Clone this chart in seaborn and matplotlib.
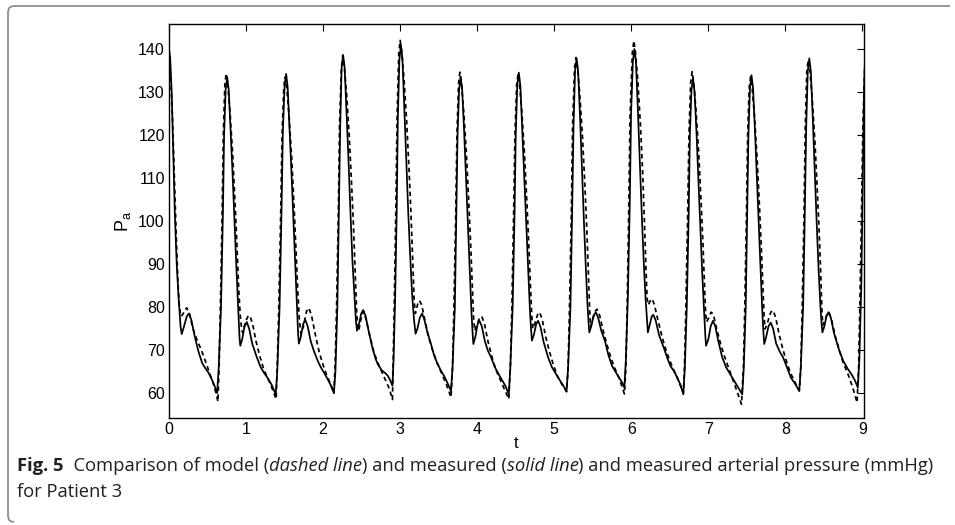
import matplotlib
matplotlib.use("Agg")
import matplotlib.pyplot as plt
import seaborn as sns
import pandas as pd
from matplotlib.lines import Line2D

# ---------------- data ----------------
# measured arterial pressure (solid line)
measured_t = [
    0.000, 0.015, 0.035, 0.055, 0.075, 0.100, 0.125, 0.150, 0.165, 0.195, 0.230, 0.260, 0.290, 0.330, 0.380, 0.430, 0.470, 0.510, 0.555, 0.595, 0.625,
    0.645, 0.675, 0.700, 0.715, 0.735, 0.755, 0.775, 0.800, 0.825, 0.850, 0.875, 0.900, 0.915, 0.925, 0.950, 0.980, 1.010, 1.040, 1.080, 1.140, 1.190, 1.230, 1.280, 1.330, 1.385,
    1.405, 1.435, 1.460, 1.478, 1.500, 1.520, 1.540, 1.565, 1.590, 1.615, 1.640, 1.665, 1.675, 1.685, 1.710, 1.740, 1.770, 1.800, 1.840, 1.880, 1.930, 1.970, 2.020, 2.060, 2.100, 2.140,
    2.160, 2.185, 2.205, 2.222, 2.240, 2.260, 2.280, 2.305, 2.330, 2.355, 2.380, 2.405, 2.425, 2.440, 2.465, 2.495, 2.520, 2.550, 2.590, 2.640, 2.680, 2.710, 2.760, 2.810, 2.840, 2.870, 2.900,
    2.915, 2.935, 2.955, 2.970, 2.990, 3.010, 3.030, 3.055, 3.080, 3.105, 3.130, 3.155, 3.180, 3.200, 3.225, 3.255, 3.285, 3.315, 3.355, 3.400, 3.440, 3.480, 3.530, 3.570, 3.610, 3.660,
    3.680, 3.710, 3.730, 3.745, 3.765, 3.785, 3.805, 3.830, 3.855, 3.880, 3.905, 3.925, 3.940, 3.950, 3.975, 4.005, 4.030, 4.060, 4.100, 4.140, 4.180, 4.230, 4.290, 4.330, 4.370, 4.410,
    4.430, 4.460, 4.485, 4.500, 4.520, 4.540, 4.560, 4.585, 4.610, 4.635, 4.660, 4.685, 4.700, 4.710, 4.735, 4.765, 4.790, 4.820, 4.860, 4.920, 4.970, 5.010, 5.050, 5.100, 5.160,
    5.180, 5.210, 5.232, 5.250, 5.270, 5.290, 5.310, 5.335, 5.360, 5.385, 5.410, 5.430, 5.445, 5.455, 5.480, 5.510, 5.540, 5.570, 5.610, 5.660, 5.700, 5.750, 5.800, 5.840, 5.880, 5.910,
    5.930, 5.955, 5.980, 5.997, 6.020, 6.040, 6.060, 6.085, 6.110, 6.135, 6.160, 6.185, 6.205, 6.215, 6.240, 6.265, 6.285, 6.315, 6.360, 6.420, 6.470, 6.510, 6.550, 6.600, 6.640, 6.675,
    6.695, 6.720, 6.745, 6.760, 6.780, 6.800, 6.820, 6.845, 6.870, 6.895, 6.920, 6.945, 6.960, 6.970, 7.000, 7.030, 7.060, 7.090, 7.130, 7.180, 7.230, 7.270, 7.310, 7.370, 7.440,
    7.460, 7.485, 7.505, 7.520, 7.540, 7.560, 7.580, 7.605, 7.630, 7.655, 7.680, 7.700, 7.715, 7.725, 7.750, 7.780, 7.810, 7.840, 7.880, 7.930, 7.970, 8.020, 8.070, 8.120, 8.180,
    8.200, 8.230, 8.252, 8.270, 8.290, 8.310, 8.330, 8.355, 8.380, 8.405, 8.430, 8.455, 8.470, 8.480, 8.505, 8.535, 8.560, 8.590, 8.630, 8.700, 8.750, 8.810, 8.860, 8.900, 8.940,
    8.960, 8.985, 9.005, 9.020, 9.035,
]
measured_p = [
    140.0, 138.0, 130.0, 116.0, 102.0, 90.0, 82.0, 75.5, 73.7, 75.5, 77.8, 78.5, 77.0, 73.5, 69.8, 67.0, 65.8, 64.8, 63.2, 61.5, 60.0,
    66.0, 80.0, 102.0, 120.0, 130.5, 133.5, 130.5, 121.0, 111.0, 100.0, 89.0, 79.0, 73.0, 71.0, 72.5, 75.5, 76.5, 75.0, 71.5, 68.3, 66.0, 64.8, 63.5, 62.0, 59.7,
    65.0, 80.0, 102.0, 121.0, 131.2, 134.2, 131.2, 121.0, 111.0, 100.0, 89.0, 78.5, 74.0, 71.5, 73.0, 76.0, 77.0, 75.5, 72.0, 69.8, 67.5, 66.0, 64.5, 63.2, 61.8, 60.0,
    65.0, 80.0, 102.0, 122.0, 135.5, 138.6, 135.5, 125.0, 114.0, 102.0, 91.0, 83.0, 77.0, 74.5, 76.0, 78.5, 79.3, 78.0, 74.5, 70.5, 68.0, 66.7, 65.3, 64.6, 64.0, 63.0, 61.7,
    68.0, 82.0, 102.0, 124.0, 137.5, 140.9, 137.5, 126.0, 114.0, 102.0, 92.0, 83.0, 77.0, 73.8, 75.0, 77.5, 78.5, 77.0, 74.0, 71.4, 68.8, 67.0, 65.2, 64.0, 62.5, 60.5,
    66.0, 80.0, 102.0, 120.0, 130.5, 133.5, 130.5, 121.0, 110.0, 99.0, 88.0, 79.0, 74.0, 71.4, 73.0, 76.0, 76.8, 75.5, 72.0, 69.8, 68.3, 66.0, 64.0, 62.8, 61.5, 59.7,
    66.0, 80.0, 102.0, 120.0, 131.5, 134.5, 131.5, 121.0, 111.0, 100.0, 89.0, 79.0, 74.5, 72.2, 73.5, 76.0, 76.8, 75.5, 72.0, 68.3, 66.0, 64.8, 63.6, 62.2, 60.5,
    66.0, 80.0, 102.0, 122.0, 134.8, 137.8, 134.8, 124.0, 112.0, 100.0, 89.0, 81.0, 76.5, 74.1, 75.5, 78.0, 78.8, 77.5, 74.5, 72.0, 69.0, 66.3, 64.8, 63.6, 62.5, 61.3,
    68.0, 82.0, 104.0, 125.0, 137.0, 140.0, 137.0, 126.0, 114.0, 102.0, 91.0, 82.0, 76.5, 74.1, 76.0, 77.8, 78.2, 77.0, 73.5, 70.6, 68.0, 66.2, 65.2, 63.5, 61.8, 59.7,
    66.0, 80.0, 102.0, 120.0, 130.2, 133.2, 130.2, 121.0, 110.0, 99.0, 88.0, 79.0, 73.5, 71.0, 72.5, 75.5, 76.8, 75.5, 72.0, 68.3, 66.0, 64.8, 63.6, 61.8, 59.7,
    66.0, 80.0, 102.0, 120.0, 130.9, 133.9, 130.9, 121.0, 110.0, 99.0, 88.0, 79.0, 74.0, 71.4, 73.0, 75.5, 76.4, 75.0, 71.5, 69.5, 68.3, 66.0, 63.6, 62.3, 60.5,
    66.0, 80.0, 102.0, 122.0, 134.8, 137.8, 134.8, 124.0, 112.0, 100.0, 89.0, 80.0, 76.0, 74.1, 75.5, 78.0, 78.8, 77.5, 74.0, 69.8, 67.5, 65.6, 64.3, 63.0, 61.3,
    68.0, 85.0, 110.0, 130.0, 139.0,
]

# model arterial pressure (dashed line)
model_t = [
    0.000, 0.020, 0.045, 0.070, 0.095, 0.115, 0.135, 0.155, 0.180, 0.205, 0.230, 0.265, 0.310, 0.360, 0.420, 0.470, 0.520, 0.570, 0.610, 0.635,
    0.650, 0.667, 0.690, 0.705, 0.725, 0.742, 0.762, 0.792, 0.827, 0.857, 0.882, 0.905, 0.925, 0.945, 0.958, 0.990, 1.025, 1.050, 1.085, 1.130, 1.180, 1.230, 1.280, 1.330, 1.390,
    1.405, 1.425, 1.450, 1.467, 1.490, 1.508, 1.528, 1.558, 1.593, 1.623, 1.648, 1.672, 1.692, 1.712, 1.745, 1.785, 1.815, 1.850, 1.900, 1.950, 2.000, 2.050, 2.100, 2.140,
    2.155, 2.175, 2.198, 2.213, 2.237, 2.255, 2.275, 2.305, 2.340, 2.370, 2.395, 2.418, 2.435, 2.450, 2.462, 2.495, 2.525, 2.560, 2.610, 2.660, 2.710, 2.760, 2.810, 2.860, 2.900,
    2.908, 2.925, 2.945, 2.960, 2.982, 3.000, 3.020, 3.050, 3.085, 3.115, 3.140, 3.165, 3.182, 3.197, 3.225, 3.250, 3.280, 3.320, 3.370, 3.420, 3.480, 3.540, 3.600, 3.660,
    3.680, 3.698, 3.722, 3.737, 3.758, 3.775, 3.795, 3.825, 3.860, 3.890, 3.915, 3.938, 3.953, 3.967, 4.000, 4.030, 4.060, 4.095, 4.140, 4.190, 4.240, 4.290, 4.350, 4.410,
    4.430, 4.450, 4.473, 4.490, 4.512, 4.530, 4.550, 4.580, 4.615, 4.645, 4.670, 4.693, 4.708, 4.722, 4.755, 4.785, 4.810, 4.845, 4.890, 4.940, 4.990, 5.040, 5.100, 5.160,
    5.180, 5.198, 5.222, 5.238, 5.263, 5.283, 5.303, 5.333, 5.368, 5.398, 5.423, 5.445, 5.460, 5.472, 5.505, 5.530, 5.555, 5.590, 5.635, 5.680, 5.730, 5.780, 5.830, 5.880, 5.910,
    5.930, 5.948, 5.968, 5.983, 6.013, 6.033, 6.053, 6.083, 6.118, 6.148, 6.170, 6.190, 6.205, 6.222, 6.245, 6.270, 6.300, 6.345, 6.400, 6.450, 6.500, 6.560, 6.620, 6.675,
    6.690, 6.708, 6.732, 6.748, 6.770, 6.790, 6.810, 6.840, 6.875, 6.905, 6.930, 6.950, 6.965, 6.977, 7.005, 7.035, 7.065, 7.100, 7.150, 7.200, 7.250, 7.300, 7.360, 7.430,
    7.455, 7.473, 7.495, 7.510, 7.530, 7.548, 7.568, 7.598, 7.633, 7.663, 7.688, 7.710, 7.724, 7.737, 7.770, 7.810, 7.840, 7.875, 7.920, 7.970, 8.020, 8.070, 8.125, 8.180,
    8.200, 8.218, 8.242, 8.258, 8.278, 8.298, 8.318, 8.348, 8.383, 8.413, 8.438, 8.460, 8.473, 8.485, 8.515, 8.540, 8.565, 8.600, 8.650, 8.700, 8.750, 8.810, 8.870, 8.930,
    8.950, 8.968, 8.990, 9.005, 9.030,
]
model_p = [
    137.0, 134.0, 124.0, 110.0, 96.0, 86.0, 80.0, 77.8, 78.3, 79.3, 79.8, 78.5, 75.0, 72.5, 70.0, 67.5, 65.0, 62.5, 60.0, 58.0,
    66.0, 80.0, 102.0, 120.0, 131.8, 134.3, 131.8, 125.3, 115.3, 104.3, 94.3, 84.0, 78.0, 74.5, 74.0, 76.5, 77.8, 78.0, 76.0, 72.0, 68.5, 65.5, 63.5, 61.5, 58.6,
    66.0, 80.0, 102.0, 120.0, 131.0, 133.5, 131.0, 124.5, 114.5, 103.5, 93.5, 83.5, 77.0, 73.7, 75.5, 79.0, 79.8, 78.0, 73.5, 69.5, 66.5, 64.0, 62.0, 60.0,
    66.0, 80.0, 102.0, 122.0, 135.5, 138.5, 136.0, 129.5, 119.5, 108.5, 98.5, 87.0, 79.0, 75.0, 74.5, 77.5, 79.0, 77.0, 73.0, 69.5, 67.0, 65.0, 63.0, 61.0, 58.5,
    66.0, 82.0, 104.0, 124.0, 139.0, 142.0, 139.5, 133.0, 123.0, 112.0, 102.0, 90.0, 81.5, 78.5, 80.5, 81.5, 80.5, 77.0, 73.0, 70.0, 67.0, 64.5, 62.0, 59.0,
    66.0, 80.0, 102.0, 120.0, 132.0, 134.6, 132.0, 125.5, 115.5, 104.5, 94.5, 84.0, 77.5, 74.5, 76.0, 77.5, 77.8, 76.0, 72.0, 68.5, 65.5, 63.5, 61.0, 58.6,
    66.0, 80.0, 102.0, 120.0, 131.7, 134.2, 131.7, 125.2, 115.2, 104.2, 94.2, 84.0, 78.0, 75.0, 76.5, 78.3, 78.8, 77.0, 73.0, 69.5, 66.5, 64.0, 62.0, 60.3,
    66.0, 80.0, 102.0, 122.0, 135.5, 138.0, 135.5, 129.0, 119.0, 108.0, 98.0, 87.0, 79.0, 75.5, 77.5, 79.0, 79.5, 78.0, 74.5, 71.5, 68.5, 66.0, 64.0, 61.5, 59.8,
    66.0, 82.0, 104.0, 124.0, 139.0, 141.9, 139.4, 133.0, 122.5, 111.0, 100.0, 89.0, 82.0, 80.5, 81.4, 81.9, 80.5, 77.0, 73.0, 70.0, 67.5, 65.0, 62.5, 60.0,
    66.0, 80.0, 102.0, 120.0, 132.2, 134.7, 132.2, 125.7, 115.7, 104.7, 94.7, 85.0, 78.5, 76.5, 77.5, 78.8, 78.3, 75.5, 72.0, 69.0, 66.5, 64.0, 61.0, 57.4,
    66.0, 80.0, 102.0, 120.0, 131.0, 133.5, 131.0, 124.5, 114.5, 103.5, 93.5, 83.5, 77.5, 74.9, 76.5, 78.8, 79.2, 77.5, 73.5, 70.0, 67.0, 64.5, 62.5, 60.5,
    66.0, 80.0, 102.0, 122.0, 135.0, 137.5, 135.0, 128.5, 118.5, 107.5, 97.5, 87.0, 79.5, 75.8, 77.0, 78.3, 78.8, 77.0, 73.0, 70.0, 67.0, 64.5, 61.5, 57.8,
    66.0, 82.0, 104.0, 122.0, 136.0,
]

x_ticks = [0, 1, 2, 3, 4, 5, 6, 7, 8, 9]
y_ticks = [60, 70, 80, 90, 100, 110, 120, 130, 140]
x_label = "t"
y_label = r"$\mathregular{P_a}$"
caption_parts = [
    ("Fig. 5", "bold", "normal"),
    ("  Comparison of model (", "normal", "normal"),
    ("dashed line", "normal", "italic"),
    (") and measured (", "normal", "normal"),
    ("solid line", "normal", "italic"),
    (") and measured arterial pressure (mmHg)", "normal", "normal"),
]
caption_line2 = "for Patient 3"

# ---------------- figure ----------------
sns.set_theme(style="white")
plt.rcParams["font.family"] = ["Liberation Sans", "DejaVu Sans"]
plt.rcParams["mathtext.fontset"] = "custom"
plt.rcParams["mathtext.rm"] = "Liberation Sans"

W, H = 955, 525
fig = plt.figure(figsize=(W / 100, H / 100), dpi=100)
fig.patch.set_facecolor("white")
fig.patch.set_edgecolor("none")
fig.patch.set_linewidth(0)

ax_l, ax_r, ax_t, ax_b = 169, 864, 24, 418
ax = fig.add_axes([ax_l / W, 1 - ax_b / H, (ax_r - ax_l) / W, (ax_b - ax_t) / H])
ax.set_facecolor("white")

df_meas = pd.DataFrame({"t": measured_t, "P": measured_p})
df_model = pd.DataFrame({"t": model_t, "P": model_p})

sns.lineplot(data=df_meas, x="t", y="P", ax=ax, color="black", linewidth=1.25,
             estimator=None, sort=False)
sns.lineplot(data=df_model, x="t", y="P", ax=ax, color="black", linewidth=1.25,
             linestyle=(0, (2.6, 2.0)), estimator=None, sort=False)

ax.set_xlim(0, 9.02)
ax.set_ylim(54.2, 145.8)
ax.set_xticks(x_ticks)
ax.set_yticks(y_ticks)
ax.set_xticklabels([str(v) for v in x_ticks])
ax.set_yticklabels([str(v) for v in y_ticks])
ax.tick_params(direction="in", length=5, width=0.8, top=True, right=True,
               labelsize=11.5, pad=3, colors="black")
for s in ax.spines.values():
    s.set_visible(True)
    s.set_color("black")
    s.set_linewidth(1.0)

ax.set_xlabel(x_label, fontsize=12, labelpad=-1, color="black")
ax.set_ylabel(y_label, fontsize=13, color="black")
ax.yaxis.set_label_coords((133 - ax_l) / (ax_r - ax_l), 0.5)

# ---------------- caption ----------------
cap_font = ["Open Sans", "DejaVu Sans"]
renderer = fig.canvas.get_renderer()
target_w = 933 - 17
base_size = 11.0
texts = []
for s, weight, style in caption_parts:
    t = fig.text(0, 0, s, fontsize=base_size, fontweight=weight, fontstyle=style,
                 family=cap_font, color="#231f20", va="baseline", ha="left")
    texts.append(t)
tot = sum(t.get_window_extent(renderer).width for t in texts)
size = base_size * target_w / tot
for t in texts:
    t.set_fontsize(size)
x = 17
for t in texts:
    t.set_position((x / W, 1 - 471 / H))
    x += t.get_window_extent(renderer).width
fig.text(17 / W, 1 - 497 / H, caption_line2, fontsize=size, family=cap_font,
         color="#231f20", va="baseline", ha="left")

# ---------------- rounded frame (top & left visible) ----------------
fx = [950, 14, 11.5, 9.5, 8.5, 8, 8, 8.5, 9.5, 11.5, 14]
fy = [6, 6, 6.5, 7.5, 9.5, 12, 516, 518.5, 520.5, 521.5, 522]
frame = Line2D([v / W for v in fx], [1 - v / H for v in fy], transform=fig.transFigure,
               color="#858585", linewidth=1.2, solid_capstyle="butt")
fig.add_artist(frame)

fig.savefig("out.png", dpi=100, facecolor="white", edgecolor="none")
